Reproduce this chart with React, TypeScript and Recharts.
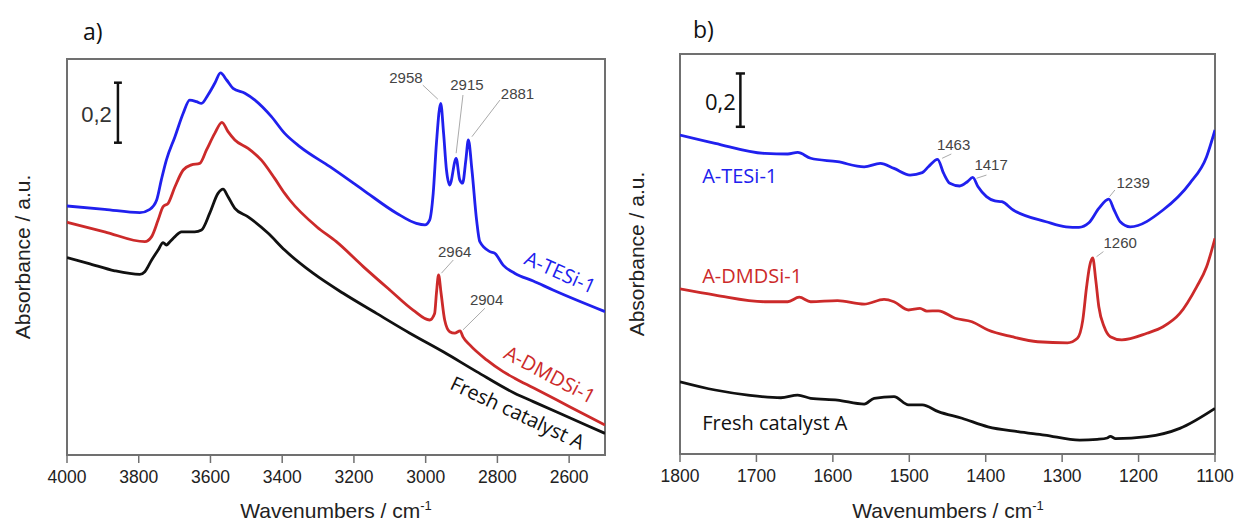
import React from 'react'
import { LineChart, Line, XAxis, YAxis, ReferenceArea, ReferenceLine, ReferenceDot } from 'recharts'

// ---------- panel a) 4000-2500 cm-1 ----------
const wnTesiA = [4000, 3895, 3797, 3769, 3750, 3737, 3723, 3699, 3676, 3658, 3639, 3625, 3607, 3588, 3572, 3555, 3537, 3504, 3476, 3430, 3393, 3351, 3267, 3174, 3081, 3026, 3002, 2989, 2979, 2970, 2958, 2950, 2942, 2933, 2915, 2905, 2897, 2888, 2881, 2871, 2858, 2849, 2821, 2807, 2784, 2752, 2700, 2645, 2500]
const absTesiA = [0.830, 0.819, 0.808, 0.819, 0.850, 0.917, 0.983, 1.061, 1.139, 1.183, 1.178, 1.172, 1.200, 1.239, 1.274, 1.250, 1.222, 1.206, 1.183, 1.128, 1.072, 1.028, 0.961, 0.883, 0.806, 0.772, 0.767, 0.783, 0.872, 1.039, 1.172, 1.072, 0.950, 0.900, 0.989, 0.917, 0.906, 0.983, 1.050, 0.950, 0.783, 0.711, 0.678, 0.672, 0.633, 0.606, 0.580, 0.550, 0.478]

const wnDmdsA = [4000, 3895, 3783, 3764, 3746, 3732, 3718, 3699, 3676, 3653, 3630, 3611, 3588, 3568, 3551, 3532, 3495, 3458, 3421, 3393, 3379, 3304, 3249, 3174, 3100, 3035, 2989, 2975, 2970, 2964, 2957, 2947, 2933, 2919, 2904, 2896, 2877, 2830, 2784, 2752, 2700, 2600, 2500]
const absDmdsA = [0.776, 0.744, 0.711, 0.728, 0.783, 0.828, 0.839, 0.894, 0.950, 0.967, 0.972, 1.017, 1.072, 1.109, 1.078, 1.050, 1.022, 0.983, 0.922, 0.872, 0.850, 0.761, 0.711, 0.628, 0.550, 0.483, 0.450, 0.472, 0.539, 0.600, 0.539, 0.450, 0.411, 0.406, 0.414, 0.394, 0.367, 0.317, 0.278, 0.256, 0.224, 0.162, 0.100]

const wnFreshA = [4000, 3941, 3867, 3797, 3783, 3764, 3746, 3732, 3723, 3713, 3699, 3681, 3644, 3625, 3602, 3579, 3565, 3551, 3532, 3495, 3439, 3393, 3314, 3230, 3137, 3044, 2951, 2858, 2752, 2700, 2600, 2500]
const absFreshA = [0.658, 0.639, 0.614, 0.602, 0.611, 0.650, 0.683, 0.708, 0.700, 0.711, 0.728, 0.744, 0.744, 0.750, 0.806, 0.872, 0.886, 0.861, 0.822, 0.794, 0.739, 0.683, 0.606, 0.539, 0.472, 0.406, 0.344, 0.278, 0.206, 0.178, 0.125, 0.072]

// ---------- panel b) 1800-1100 cm-1 ----------
const wnTesiB = [1800, 1754, 1689, 1659, 1646, 1629, 1594, 1559, 1538, 1520, 1499, 1483, 1475, 1463, 1455, 1447, 1434, 1424, 1417, 1410, 1399, 1388, 1379, 1364, 1321, 1295, 1278, 1265, 1252, 1239, 1232, 1224, 1211, 1168, 1133, 1111, 1100]
const absTesiB = [1.196, 1.165, 1.127, 1.125, 1.131, 1.109, 1.096, 1.077, 1.090, 1.071, 1.046, 1.055, 1.077, 1.105, 1.052, 1.015, 1.005, 1.021, 1.037, 1.002, 0.965, 0.949, 0.946, 0.915, 0.871, 0.852, 0.850, 0.867, 0.921, 0.956, 0.915, 0.871, 0.852, 0.915, 1.015, 1.115, 1.215]

const wnDmdsB = [1800, 1754, 1689, 1659, 1644, 1629, 1594, 1559, 1533, 1520, 1501, 1486, 1477, 1462, 1440, 1418, 1397, 1366, 1332, 1293, 1280, 1273, 1268, 1264, 1260, 1256, 1252, 1245, 1237, 1222, 1189, 1168, 1146, 1124, 1111, 1100]
const absDmdsB = [0.619, 0.596, 0.571, 0.571, 0.588, 0.571, 0.575, 0.562, 0.580, 0.571, 0.540, 0.546, 0.536, 0.537, 0.509, 0.496, 0.465, 0.440, 0.421, 0.417, 0.434, 0.502, 0.627, 0.705, 0.735, 0.652, 0.552, 0.477, 0.440, 0.428, 0.453, 0.477, 0.527, 0.627, 0.702, 0.809]

const wnFreshB = [1800, 1754, 1711, 1668, 1646, 1629, 1594, 1559, 1546, 1520, 1501, 1483, 1462, 1431, 1397, 1358, 1323, 1277, 1254, 1241, 1237, 1230, 1189, 1146, 1100]
const absFreshB = [0.271, 0.240, 0.221, 0.211, 0.221, 0.209, 0.202, 0.187, 0.209, 0.215, 0.184, 0.184, 0.159, 0.134, 0.102, 0.084, 0.071, 0.052, 0.055, 0.060, 0.066, 0.058, 0.065, 0.096, 0.171]

// labelled (long) and unlabelled (short) ticks
const majorTicksA = [4000, 3800, 3600, 3400, 3200, 3000, 2800, 2600]
const minorTicksA = [3900, 3700, 3500, 3300, 3100, 2900, 2700, 2500]
const majorTicksB = [1800, 1700, 1600, 1500, 1400, 1300, 1200, 1100]
const minorTicksB = [1750, 1650, 1550, 1450, 1350, 1250, 1150]

// peak annotations: label centre and leader line, in (wavenumber, absorbance)
const peaksA = [
  { text: '2958', w: 3055, a: 1.256, from: [3008, 1.233], to: [2966, 1.186] },
  { text: '2915', w: 2885, a: 1.233, from: [2896, 1.200], to: [2915, 1.006] },
  { text: '2881', w: 2744, a: 1.205, from: [2793, 1.183], to: [2871, 1.061] },
  { text: '2964', w: 2919, a: 0.678, from: [2923, 0.650], to: [2956, 0.606] },
  { text: '2904', w: 2830, a: 0.517, from: [2835, 0.489], to: [2896, 0.417] },
]
const peaksB = [
  { text: '1463', w: 1442, a: 1.159, from: [1445, 1.125], to: [1457, 1.109] },
  { text: '1417', w: 1393, a: 1.084, from: [1399, 1.046], to: [1412, 1.034] },
  { text: '1239', w: 1207, a: 1.018, from: [1231, 0.990], to: [1238, 0.965] },
  { text: '1260', w: 1224, a: 0.793, from: [1246, 0.759], to: [1255, 0.740] },
]

const BLUE = '#2020ee'
const RED = '#cc2a2a'
const BLACK = '#111'
const AXIS = '#707070'
const ARIAL = '"Liberation Sans", Arial, sans-serif'
const SANS = '"Open Sans", "Noto Sans", sans-serif'

type Pt = { w: number; a: number }
const toPts = (w: number[], a: number[]): Pt[] => w.map((x, i) => ({ w: x, a: a[i] }))

type TagProps = {
  cx?: number; cy?: number; text: string; color: string; size: number; family: string
  angle?: number; anchor?: 'start' | 'middle' | 'end'; middle?: boolean
}
function Tag({ cx = 0, cy = 0, text, color, size, family, angle = 0, anchor = 'middle', middle = false }: TagProps) {
  return (
    <text x={cx} y={cy} dy={middle ? '0.35em' : 0} fill={color} fontSize={size} fontFamily={family}
      textAnchor={anchor} transform={angle ? `rotate(${angle} ${cx} ${cy})` : undefined}>
      {text}
    </text>
  )
}

type SeriesCfg = { pts: Pt[]; color: string; key: string }
type LabelCfg = { text: string; w: number; a: number; color: string; angle: number; anchor: 'start' | 'middle' }
type Peak = { text: string; w: number; a: number; from: number[]; to: number[] }

type PanelProps = {
  width: number
  margin: { top: number; right: number; bottom: number; left: number }
  xDomain: [number, number]
  majorTicks: number[]
  minorTicks: number[]
  yMax: number
  series: SeriesCfg[]
  labels: LabelCfg[]
  peaks: Peak[]
  bar: { w: number; a0: number; cap: number; textW: number; textA: number; family: string; color: string }
}

function Panel({ width, margin, xDomain, majorTicks, minorTicks, yMax, series, labels, peaks, bar }: PanelProps) {
  return (
    <LineChart width={width} height={522} margin={margin}>
      {/* short unlabelled ticks; declared first so it sits on the plot edge */}
      <XAxis xAxisId="minor" type="number" dataKey="w" domain={xDomain} reversed ticks={minorTicks} interval={0}
        allowDataOverflow tickFormatter={() => ''} tickSize={4} height={0} axisLine={false}
        tickLine={{ stroke: AXIS, strokeWidth: 1.5 }} />
      <XAxis type="number" dataKey="w" domain={xDomain} reversed ticks={majorTicks} interval={0} allowDataOverflow
        tickSize={8} tickMargin={8} height={30}
        axisLine={{ stroke: AXIS, strokeWidth: 2 }} tickLine={{ stroke: AXIS, strokeWidth: 1.5 }}
        tick={{ fill: '#222', fontSize: 17.5, fontFamily: ARIAL }} />
      <YAxis type="number" dataKey="a" domain={[0, yMax]} hide allowDataOverflow />
      <ReferenceArea x1={xDomain[0]} x2={xDomain[1]} y1={0} y2={yMax} fill="none" fillOpacity={0}
        stroke={AXIS} strokeWidth={2} ifOverflow="visible" />

      {peaks.map((p) => (
        <ReferenceLine key={'l' + p.text} ifOverflow="visible" stroke="#aaa" strokeWidth={1}
          segment={[{ x: p.from[0], y: p.from[1] }, { x: p.to[0], y: p.to[1] }]} />
      ))}

      {/* 0,2 absorbance scale bar */}
      <ReferenceLine ifOverflow="visible" stroke="#111" strokeWidth={2.5}
        segment={[{ x: bar.w, y: bar.a0 }, { x: bar.w, y: bar.a0 + 0.2 }]} />
      <ReferenceLine ifOverflow="visible" stroke="#111" strokeWidth={2.5}
        segment={[{ x: bar.w + bar.cap, y: bar.a0 }, { x: bar.w - bar.cap, y: bar.a0 }]} />
      <ReferenceLine ifOverflow="visible" stroke="#111" strokeWidth={2.5}
        segment={[{ x: bar.w + bar.cap, y: bar.a0 + 0.2 }, { x: bar.w - bar.cap, y: bar.a0 + 0.2 }]} />
      <ReferenceDot x={bar.textW} y={bar.textA} r={0} ifOverflow="visible"
        shape={(p: any) => <Tag cx={p.cx} cy={p.cy} text="0,2" color={bar.color} size={22} family={bar.family} anchor="end" />} />

      {series.map((s) => (
        <Line key={s.key} data={s.pts} dataKey="a" type="monotone" stroke={s.color} strokeWidth={2.8}
          dot={false} activeDot={false} isAnimationActive={false} />
      ))}

      {peaks.map((p) => (
        <ReferenceDot key={'t' + p.text} x={p.w} y={p.a} r={0} ifOverflow="visible"
          shape={(d: any) => <Tag cx={d.cx} cy={d.cy} text={p.text} color="#444" size={15} family={ARIAL} middle />} />
      ))}
      {labels.map((l) => (
        <ReferenceDot key={l.text} x={l.w} y={l.a} r={0} ifOverflow="visible"
          shape={(d: any) => <Tag cx={d.cx} cy={d.cy} text={l.text} color={l.color} size={20} family={SANS}
            angle={l.angle} anchor={l.anchor} />} />
      ))}
    </LineChart>
  )
}

export default function App() {
  return (
    <div style={{ position: 'absolute', left: 0, top: 0, width: 1236, height: 522, background: '#fff' }}>
      <div style={{ position: 'absolute', left: 0, top: 0 }}>
        <Panel
          width={620}
          margin={{ top: 59, right: 15, bottom: 37, left: 67 }}
          xDomain={[2500, 4000]}
          majorTicks={majorTicksA}
          minorTicks={minorTicksA}
          yMax={1.32}
          series={[
            { key: 'fresh', pts: toPts(wnFreshA, absFreshA), color: BLACK },
            { key: 'dmds', pts: toPts(wnDmdsA, absDmdsA), color: RED },
            { key: 'tesi', pts: toPts(wnTesiA, absTesiA), color: BLUE },
          ]}
          labels={[
            { text: 'A-TESi-1', w: 2633, a: 0.587, color: BLUE, angle: 24, anchor: 'middle' },
            { text: 'A-DMDSi-1', w: 2663, a: 0.247, color: RED, angle: 28, anchor: 'middle' },
            { text: 'Fresh catalyst A', w: 2752, a: 0.119, color: BLACK, angle: 25, anchor: 'middle' },
          ]}
          peaks={peaksA}
          bar={{ w: 3858, a0: 1.041, cap: 11, textW: 3875, textA: 1.111, family: ARIAL, color: '#333' }}
        />
      </div>
      <div style={{ position: 'absolute', left: 620, top: 0 }}>
        <Panel
          width={616}
          margin={{ top: 54, right: 21, bottom: 38, left: 60 }}
          xDomain={[1100, 1800]}
          majorTicks={majorTicksB}
          minorTicks={minorTicksB}
          yMax={1.5}
          series={[
            { key: 'fresh', pts: toPts(wnFreshB, absFreshB), color: BLACK },
            { key: 'dmds', pts: toPts(wnDmdsB, absDmdsB), color: RED },
            { key: 'tesi', pts: toPts(wnTesiB, absTesiB), color: BLUE },
          ]}
          labels={[
            { text: 'A-TESi-1', w: 1771, a: 1.016, color: BLUE, angle: 0, anchor: 'start' },
            { text: 'A-DMDSi-1', w: 1771, a: 0.641, color: RED, angle: 0, anchor: 'start' },
            { text: 'Fresh catalyst A', w: 1771, a: 0.09, color: BLACK, angle: 0, anchor: 'start' },
          ]}
          peaks={peaksB}
          bar={{ w: 1721, a0: 1.227, cap: 6, textW: 1727, textA: 1.29, family: SANS, color: '#111' }}
        />
      </div>
      <svg width={1236} height={522} style={{ position: 'absolute', left: 0, top: 0, pointerEvents: 'none' }}>
        <text x={83} y={40} fontSize={23} fontFamily={SANS} fill="#111">a)</text>
        <text x={693} y={38} fontSize={23} fontFamily={SANS} fill="#111">b)</text>
        <text x={30} y={257} fontSize={21} fontFamily={ARIAL} fill="#222" textAnchor="middle"
          transform="rotate(-90 30 257)">Absorbance / a.u.</text>
        <text x={644} y={254} fontSize={21} fontFamily={ARIAL} fill="#222" textAnchor="middle"
          transform="rotate(-90 644 254)">Absorbance / a.u.</text>
        <text x={336} y={518} fontSize={21} fontFamily={ARIAL} fill="#222" textAnchor="middle">
          Wavenumbers / cm<tspan dy={-8} fontSize={13}>-1</tspan>
        </text>
        <text x={948} y={518} fontSize={21} fontFamily={ARIAL} fill="#222" textAnchor="middle">
          Wavenumbers / cm<tspan dy={-8} fontSize={13}>-1</tspan>
        </text>
      </svg>
    </div>
  )
}
